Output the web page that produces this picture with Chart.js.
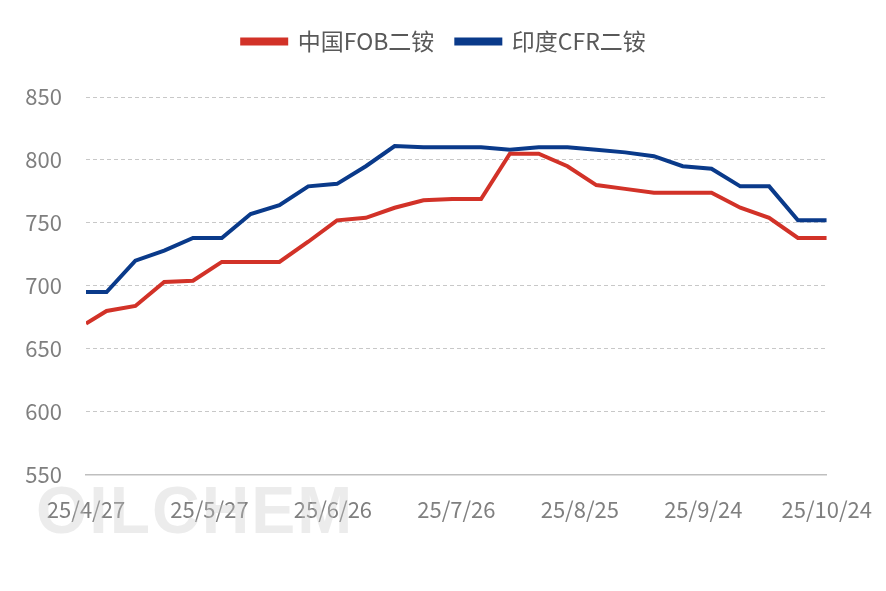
<!DOCTYPE html>
<html><head><meta charset="utf-8">
<script src="https://cdn.jsdelivr.net/npm/chart.js@4/dist/chart.umd.min.js"></script>
<style>html,body{margin:0;padding:0;background:#fff}#w{width:886px;height:591px;position:relative}
#wm{position:absolute;left:36px;top:472px;font:bold 66px 'Liberation Sans',sans-serif;color:rgba(200,200,200,0.35);letter-spacing:2px}</style>
</head><body><div id="w"><div id="wm">OILCHEM</div><canvas id="c"></canvas></div>
<script>
const startDate = new Date(2025,3,27);
const dayOffsets = [0,5,12,19,26,33,40,47,54,61,68,75,82,89,96,103,110,117,124,131,138,145,152,159,166,173,180];
const chinaFOB = [670,680,684,703,704,719,719,719,735,752,754,762,768,769,769,805,805,795,780,777,774,774,774,762,754,738,738];
const indiaCFR = [695,695,720,728,738,738,757,764,779,781,795,811,810,810,810,808,810,810,808,806,803,795,793,779,779,752,752];
const seriesNames = ['中国FOB二铵','印度CFR二铵'];
const toPts = v => v.map((y,i)=>({x:dayOffsets[i],y}));
function fmt(d){const t=new Date(startDate);t.setDate(t.getDate()+d);return (t.getFullYear()%100)+'/'+(t.getMonth()+1)+'/'+t.getDate();}
const font = "'Noto Sans CJK SC','Noto Sans',sans-serif";
new Chart(document.getElementById('c'),{
 type:'line',
 data:{datasets:[
  {label:seriesNames[0],data:toPts(chinaFOB),borderColor:'#d23228',backgroundColor:'#d23228',borderWidth:4,pointRadius:0,tension:0},
  {label:seriesNames[1],data:toPts(indiaCFR),borderColor:'#0a3a8a',backgroundColor:'#0a3a8a',borderWidth:4,pointRadius:0,tension:0}
 ]},
 options:{responsive:true,maintainAspectRatio:false,animation:false,
  layout:{padding:{left:0,right:58,top:8,bottom:54}},
  plugins:{legend:{position:'top',labels:{boxWidth:44,boxHeight:4,color:'#595959',font:{family:font,size:23},padding:22}},tooltip:{enabled:false}},
  scales:{
   x:{type:'linear',min:0,max:180,ticks:{stepSize:30,callback:v=>fmt(v),color:'#7f7f7f',font:{family:font,size:22},maxRotation:0,padding:14},
      grid:{display:false,drawOnChartArea:false,tickLength:8,tickColor:'#bfbfbf'},border:{color:'#bfbfbf',width:1.5},
      afterBuildTicks:a=>{a.ticks=[0,30,60,90,120,150,180].map(v=>({value:v}));}},
   y:{min:550,max:850,afterFit:s=>{s.width=86;},ticks:{stepSize:50,color:'#7f7f7f',font:{family:font,size:22},padding:24},
      grid:{color:'#c8c8c8',drawTicks:false},border:{display:false,dash:[4,3]}}
  }
 },
 plugins:[{id:'legpad',beforeInit(ch){const f=ch.legend.fit;ch.legend.fit=function(){f.bind(ch.legend)();this.height+=34;};},
   afterLayout(ch){ch.legend.left+=30;ch.legend.right+=30;}}]
});
</script></body></html>
